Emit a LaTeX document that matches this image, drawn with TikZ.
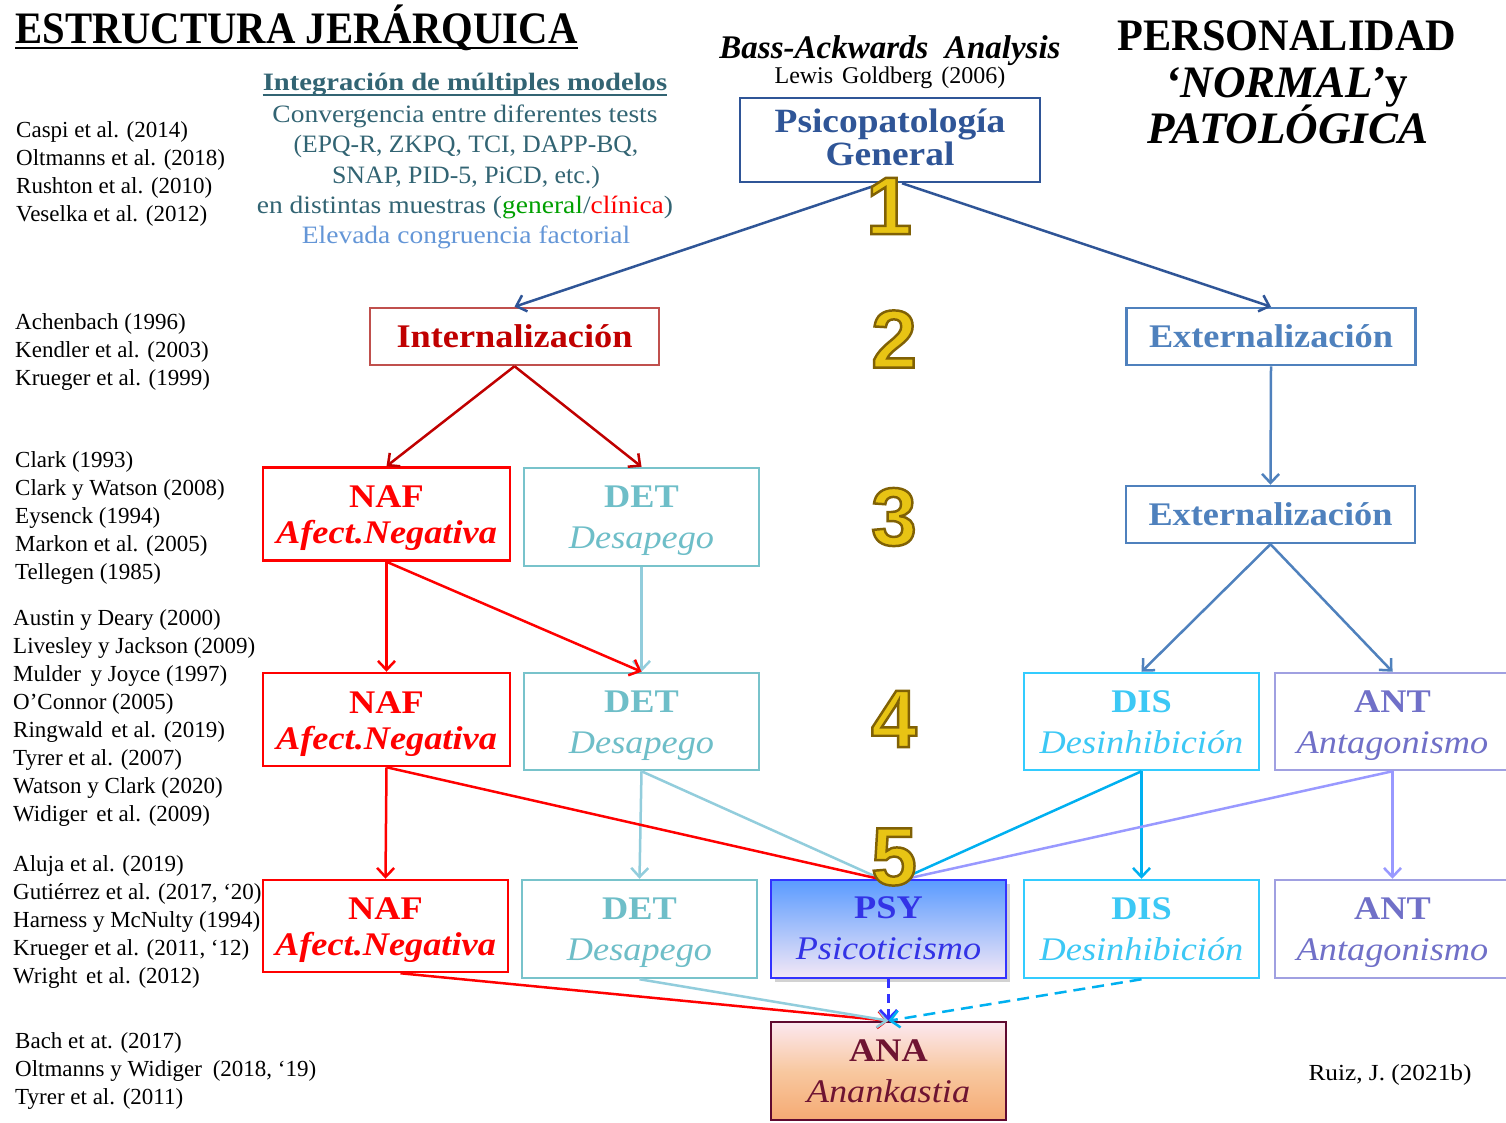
\documentclass[tikz,border=0pt]{standalone}
\usepackage{fontspec}
\setmainfont{Liberation Serif}
\newfontfamily\boxfont[FakeStretch=1.1]{Liberation Serif}
\newfontfamily\digitfont[FakeBold=3]{Liberation Sans Bold}
\usetikzlibrary{arrows.meta,shadows}
\definecolor{cGen}{RGB}{47,85,151}
\definecolor{cIntB}{RGB}{192,80,77}
\definecolor{cIntT}{RGB}{192,0,0}
\definecolor{cExt}{RGB}{79,129,189}
\definecolor{cNaf}{RGB}{255,0,0}
\definecolor{cDetB}{RGB}{120,195,203}
\definecolor{cDetT}{RGB}{110,190,200}
\definecolor{cDetL}{RGB}{146,205,220}
\definecolor{cDisB}{RGB}{51,204,255}
\definecolor{cDisT}{RGB}{60,200,245}
\definecolor{cDisL}{RGB}{0,176,240}
\definecolor{cAntB}{RGB}{160,160,225}
\definecolor{cAntT}{RGB}{112,112,200}
\definecolor{cAntL}{RGB}{153,153,255}
\definecolor{cPsyB}{RGB}{51,51,255}
\definecolor{cPsyT}{RGB}{51,51,230}
\definecolor{cPsyTop}{RGB}{90,155,255}
\definecolor{cPsyBot}{RGB}{244,232,246}
\definecolor{cAnaB}{RGB}{96,10,48}
\definecolor{cAnaT}{RGB}{110,20,50}
\definecolor{cAnaTop}{RGB}{252,232,240}
\definecolor{cAnaMid}{RGB}{248,200,160}
\definecolor{cAnaBot}{RGB}{245,170,115}
\definecolor{cTeal}{RGB}{50,100,115}
\definecolor{cLight}{RGB}{100,150,215}
\definecolor{cGreen}{RGB}{0,160,0}
\definecolor{goldL}{RGB}{232,196,20}
% two-line box text with fixed first-line height and last-line depth
\newcommand{\twol}[3]{\rule{0pt}{#1}#2\\#3\rule[-8pt]{0pt}{8pt}}
% gold digit: gold fill, dark bronze outline (fill/stroke colours set separately)
\newcommand{\golddig}[1]{\special{pdf:bcolor [0.91 0.77 0.08] [0.50 0.38 0.02]}#1\special{pdf:ecolor}}
\begin{document}
\begin{tikzpicture}[x=1pt,y=-1pt,
  every node/.style={inner sep=0pt},
  box/.style={draw, line width=2.5pt, inner sep=0pt, align=center,
    font=\boxfont\fontsize{33}{41}\selectfont},
  nafbox/.style={box, draw=cNaf, text=cNaf, minimum width=247pt, minimum height=93pt,
    font=\boxfont\fontsize{33}{36}\selectfont},
  detbox/.style={box, draw=cDetB, text=cDetT, minimum width=235pt, minimum height=98pt},
  disbox/.style={box, draw=cDisB, text=cDisT, minimum width=235pt, minimum height=98pt},
  antbox/.style={box, draw=cAntB, text=cAntT, minimum width=235pt, minimum height=98pt},
  onebox/.style={box, minimum width=289pt, minimum height=57pt},
  conn/.style={line width=2.5pt, -{Straight Barb[length=9pt,width=17pt]}},
  plainline/.style={line width=2.5pt},
  cite/.style={anchor=base west, font=\fontsize{23}{28}\selectfont},
  mid/.style={anchor=base, text=cTeal, font=\boxfont\fontsize{25}{30}\selectfont},
  digit/.style={font=\digitfont\fontsize{82}{82}\selectfont, text=goldL},
  titl/.style={font=\fontsize{45}{50}\selectfont\bfseries}
]
\useasboundingbox (0,0) rectangle (1506,1122);
\clip (0,0) rectangle (1506,1122);
\fill[white] (0,0) rectangle (1506,1122);

% ---- titles
\node[anchor=base west, titl] (t1) at (15,43) {\scalebox{0.905}[1]{ESTRUCTURA JERÁRQUICA}};
\draw[line width=2pt] ([yshift=-5pt]t1.base west) -- ([yshift=-5pt]t1.base east);
\node[anchor=base, titl] (t2a) at (1287,50) {\scalebox{0.94}[1]{PERSONALIDAD}};
\node[anchor=base, titl] (t2b) at (1287,97) {{\itshape ‘NORMAL’}y};
\node[anchor=base, titl] (t2c) at (1288,143) {\itshape PATOLÓGICA};

\node[anchor=base] (bass) at (890,58) {\fontsize{33}{36}\selectfont\bfseries\itshape Bass-Ackwards\ \ Analysis};
\node[anchor=base] (lewis) at (890,83) {\fontsize{24}{26}\selectfont Lewis\hspace{9pt}Goldberg\hspace{9pt}(2006)};

% ---- middle text block
\node[mid] (m1) at (465,90) {\bfseries\scalebox{1.04}[1]{Integración de múltiples modelos}};
\draw[cTeal, line width=1.5pt] ([yshift=-5pt]m1.base west) -- ([yshift=-5pt]m1.base east);
\node[mid] (m2) at (465,122) {Convergencia entre diferentes tests};
\node[mid] (m3) at (466,152) {\scalebox{0.93}[1]{(EPQ-R, ZKPQ, TCI, DAPP-BQ,}};
\node[mid] (m4) at (466,183) {\scalebox{0.94}[1]{SNAP, PID-5, PiCD, etc.)}};
\node[mid] (m5) at (465,213) {en distintas muestras (\textcolor{cGreen}{general}/\textcolor{cNaf}{clínica})};
\node[mid, text=cLight] (m6) at (466,243) {Elevada congruencia factorial};

% ---- citations
\foreach \t [count=\i] in {{Caspi et al. (2014)},{Oltmanns et al. (2018)},{Rushton et al. (2010)},{Veselka et al. (2012)}}
  \node[cite] (ga\i) at (16,{137+28*(\i-1)}) {\t};
\foreach \t [count=\i] in {{Achenbach (1996)},{Kendler et al. (2003)},{Krueger et al. (1999)}}
  \node[cite] (gb\i) at (15,{329+28*(\i-1)}) {\t};
\foreach \t [count=\i] in {{Clark (1993)},{Clark y Watson (2008)},{Eysenck (1994)},{Markon et al. (2005)},{Tellegen (1985)}}
  \node[cite] (gc\i) at (15,{467+28.2*(\i-1)}) {\t};
\foreach \t [count=\i] in {{Austin y Deary (2000)},{Livesley y Jackson (2009)},{Mulder\hspace{4pt} y Joyce (1997)},{O’Connor (2005)},{Ringwald\hspace{3pt} et al. (2019)},{Tyrer et al. (2007)},{Watson y Clark (2020)},{Widiger\hspace{3pt} et al. (2009)}}
  \node[cite] (gd\i) at (13,{625+28*(\i-1)}) {\t};
\foreach \t [count=\i] in {{Aluja et al. (2019)},{Gutiérrez et al. (2017, ‘20)},{Harness y McNulty (1994)},{Krueger et al. (2011, ‘12)},{Wright\hspace{3pt} et al. (2012)}}
  \node[cite] (ge\i) at (13,{871+28*(\i-1)}) {\t};
\foreach \t [count=\i] in {{Bach et at. (2017)},{Oltmanns y Widiger\hspace{5pt} (2018, ‘19)},{Tyrer et al. (2011)}}
  \node[cite] (gf\i) at (15,{1048+28*(\i-1)}) {\t};

\node[anchor=base] (ruiz) at (1390,1080) {\boxfont\fontsize{23}{26}\selectfont Ruiz, J. (2021b)};

% ---- boxes
\node[box, draw=cGen, text=cGen, minimum width=300pt, minimum height=84pt,
  font=\boxfont\fontsize{34}{33}\selectfont\bfseries] (gen) at (890,140) {\twol{26pt}{Psicopatología}{General}};
\node[onebox, draw=cIntB, text=cIntT, font=\boxfont\fontsize{33}{36}\selectfont\bfseries] (int) at (514.5,336.5) {Internalización};
\node[onebox, draw=cExt, text=cExt, font=\boxfont\fontsize{33}{36}\selectfont\bfseries] (ext2) at (1271,336.5) {Externalización};
\node[onebox, draw=cExt, text=cExt, font=\boxfont\fontsize{33}{36}\selectfont\bfseries] (ext3) at (1270.5,514.5) {Externalización};

\node[nafbox] (naf3) at (386.5,514) {\twol{31pt}{\textbf{NAF}}{\textbf{\textit{Afect.Negativa}}}};
\node[detbox] (det3) at (641.5,517) {\twol{30pt}{\textbf{DET}}{\textit{Desapego}}};
\node[nafbox] (naf4) at (386.5,719.5) {\twol{31pt}{\textbf{NAF}}{\textbf{\textit{Afect.Negativa}}}};
\node[detbox, minimum height=97pt] (det4) at (641.5,721.5) {\twol{30pt}{\textbf{DET}}{\textit{Desapego}}};
\node[disbox, minimum height=97pt] (dis4) at (1141.5,721.5) {\twol{30pt}{\textbf{DIS}}{\textit{Desinhibición}}};
\node[antbox, minimum height=97pt] (ant4) at (1392.5,721.5) {\twol{30pt}{\textbf{ANT}}{\textit{Antagonismo}}};
\node[nafbox, minimum width=245pt, minimum height=92pt] (naf5) at (385.5,926) {\twol{31pt}{\textbf{NAF}}{\textbf{\textit{Afect.Negativa}}}};
\node[detbox] (det5) at (639.5,929) {\twol{30pt}{\textbf{DET}}{\textit{Desapego}}};
\node[box, draw=cPsyB, text=cPsyT, minimum width=235pt, minimum height=98pt,
  top color=cPsyTop, bottom color=cPsyBot,
  drop shadow={shadow xshift=4pt, shadow yshift=-4pt, opacity=0.35}] (psy) at (888.5,929) {\twol{27pt}{\textbf{PSY}}{\textit{Psicoticismo}}};
\node[disbox] (dis5) at (1141.5,929) {\twol{30pt}{\textbf{DIS}}{\textit{Desinhibición}}};
\node[antbox] (ant5) at (1392.5,929) {\twol{30pt}{\textbf{ANT}}{\textit{Antagonismo}}};
\node[box, draw=cAnaB, text=cAnaT, minimum width=235pt, minimum height=98pt,
  top color=cAnaTop, bottom color=cAnaBot, middle color=cAnaMid] (ana) at (888.5,1071) {\twol{30pt}{\textbf{ANA}}{\textit{Anankastia}}};

% ---- connectors
\draw[conn, cGen] ([xshift=-8pt]gen.south) -- (int.north);
\draw[conn, cGen] ([xshift=12pt]gen.south) -- (ext2.north);
\draw[conn, cIntT] (int.south) -- (naf3.north);
\draw[conn, cIntT] (int.south) -- (det3.north);
\draw[conn, cExt] (ext2.south) -- (ext3.north);
\draw[conn, cExt] (ext3.south) -- (dis4.north);
\draw[conn, cExt] (ext3.south) -- (ant4.north);
\draw[conn, cDetL] (det3.south) -- (det4.north);
\draw[conn, cNaf] (naf3.south) -- (naf4.north);
\draw[conn, cNaf] (naf3.south) -- (det4.north);
\draw[conn, cDetL] (det4.south) -- (det5.north);
\draw[plainline, cDetL] (det4.south) -- ([xshift=-8pt]psy.north);
\draw[plainline, cNaf] (naf4.south) -- ([xshift=-10pt]psy.north);
\draw[conn, cNaf] (naf4.south) -- (naf5.north);
\draw[plainline, cDisL] (dis4.south) -- ([xshift=14pt]psy.north);
\draw[conn, cDisL] (dis4.south) -- (dis5.north);
\draw[plainline, cAntL] (ant4.south) -- ([xshift=18pt]psy.north);
\draw[conn, cAntL] (ant4.south) -- (ant5.north);
\draw[conn, cNaf] ([xshift=15pt]naf5.south) -- (ana.north);
\draw[conn, cDetL] (det5.south) -- (ana.north);
\draw[conn, cPsyB, dash pattern=on 9pt off 6pt] (psy.south) -- (ana.north);
\draw[conn, cDisL, dash pattern=on 12pt off 7pt] (dis5.south) -- (ana.north);

% ---- level digits
\node[digit] (n1) at (889,206) {\golddig{1}};
\node[digit] (n2) at (894,339) {\golddig{2}};
\node[digit] (n3) at (894,517) {\golddig{3}};
\node[digit] (n4) at (894,719) {\golddig{4}};
\node[digit] (n5) at (894,857) {\golddig{5}};
\end{tikzpicture}
\end{document}
